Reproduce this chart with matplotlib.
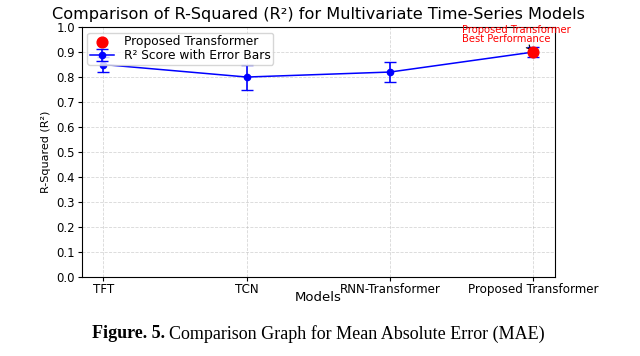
import matplotlib
matplotlib.use("Agg")
import matplotlib.pyplot as plt
import numpy as np

models = ["TFT", "TCN", "RNN-Transformer", "Proposed Transformer"]
r2_scores = [0.85, 0.80, 0.82, 0.90]
r2_errors = [0.03, 0.05, 0.04, 0.02]
best_index = 3
y_ticks = [0.0, 0.1, 0.2, 0.3, 0.4, 0.5, 0.6, 0.7, 0.8, 0.9, 1.0]

fig = plt.figure(figsize=(6.4, 3.56), dpi=100)
ax = fig.add_axes([0.128, 0.222, 0.739, 0.702])

x = np.arange(len(models))
ax.errorbar(x, r2_scores, yerr=r2_errors, fmt='-o', color='blue', ecolor='blue',
            capsize=4, markersize=4.5, linewidth=1.1, elinewidth=1.2, label="R² Score with Error Bars")
ax.scatter([x[best_index]], [r2_scores[best_index]], color='red', s=60, zorder=5,
           label="Proposed Transformer")
ax.annotate("Proposed Transformer\nBest Performance",
            xy=(x[best_index], r2_scores[best_index]),
            xytext=(x[best_index] - 0.5, 0.97),
            color='red', fontsize=7.2, ha='left', va='center', linespacing=0.8,
            arrowprops=dict(arrowstyle='->', color='black', lw=0.8))

ax.set_xticks(x)
ax.set_xticklabels(models, fontsize=8.6)
ax.set_yticks(y_ticks)
ax.set_yticklabels([f"{v:.1f}" for v in y_ticks], fontsize=8.4)
ax.set_ylim(0, 1.0)
ax.grid(True, linestyle='--', alpha=0.5, linewidth=0.6)
ax.set_xlabel("Models", fontsize=9.5, labelpad=-3)
ax.set_ylabel("R-Squared (R²)", fontsize=8.0, labelpad=4)
ax.set_title("Comparison of R-Squared (R²) for Multivariate Time-Series Models", fontsize=11.6, pad=6)
ax.tick_params(axis='x', pad=1, length=3)
ax.tick_params(axis='y', pad=2, length=3)
ax.legend(loc='upper left', fontsize=8.8, bbox_to_anchor=(0.0, 1.0), framealpha=0.8,
          borderpad=0.2, labelspacing=0.1, handletextpad=0.8, borderaxespad=0.45)

fig.canvas.draw()
renderer = fig.canvas.get_renderer()
cap_y = 1 - 334 / 356
t_bold = fig.text(92 / 640, cap_y, "Figure. 5.", fontsize=13, fontweight='bold',
                  family='Liberation Serif', ha='left', va='center')
bb = t_bold.get_window_extent(renderer)
fig.text((bb.x1 + 4) / 640, cap_y, "Comparison Graph for Mean Absolute Error (MAE)",
         fontsize=13, family='Liberation Serif', ha='left', va='center')

fig.savefig("out.png", dpi=100)
